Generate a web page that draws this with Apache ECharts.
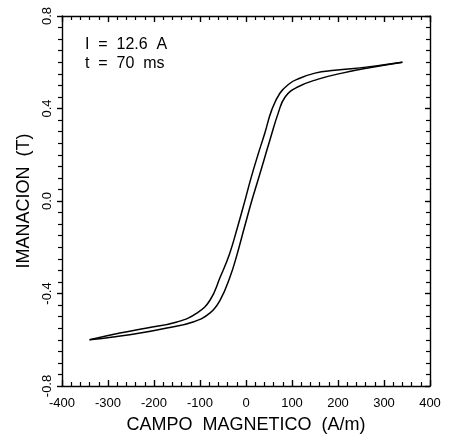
<!DOCTYPE html>
<html>
<head>
<meta charset="utf-8">
<script src="https://cdn.jsdelivr.net/npm/echarts@6/dist/echarts.min.js"></script>
<style>
  html, body { margin: 0; padding: 0; background: #fff; }
  #chart { width: 450px; height: 441px; }
</style>
</head>
<body>
<div id="chart"></div>
<script>
// Hysteresis loop: ascending branch (field increasing)
var fieldUp = [-340, -289, -230, -172, -115, -78, -56, -35, -20, -4, 13, 26, 38, 52, 70, 85, 111, 157, 209, 265, 340];
var magUp   = [-0.600, -0.588, -0.571, -0.549, -0.523, -0.484, -0.428, -0.330, -0.235, -0.118, 0.004, 0.090, 0.170, 0.264, 0.380, 0.450, 0.492, 0.527, 0.553, 0.575, 0.600];

// Descending branch (field decreasing)
var fieldDown = [340, 265, 193, 150, 111, 95, 74, 56, 41, 26, 11, -2, -18, -36, -56, -78, -106, -150, -215, -274, -340];
var magDown   = [0.600, 0.580, 0.565, 0.553, 0.526, 0.508, 0.467, 0.394, 0.294, 0.200, 0.100, 0.004, -0.110, -0.230, -0.329, -0.428, -0.484, -0.523, -0.549, -0.571, -0.600];

var xTicks = { min: -400, max: 400, step: 100 };
var yTicks = { min: -0.8, max: 0.8, step: 0.4 };

var annotation = ['I  =  12.6  A', 't  =  70  ms'];

function pairs(xs, ys) {
  return xs.map(function (x, i) { return [x, ys[i]]; });
}

var FONT = '"Liberation Sans", Arial, sans-serif';
var lineStyle = { color: '#000', width: 1.4 };

var chart = echarts.init(document.getElementById('chart'), null, { renderer: 'canvas' });

var baseX = {
  type: 'value', min: xTicks.min, max: xTicks.max, interval: xTicks.step,
  axisLine: { show: true, onZero: false, lineStyle: lineStyle },
  axisTick: { show: true, inside: true, length: 6, lineStyle: lineStyle },
  minorTick: { show: true, splitNumber: 5, length: 4, lineStyle: { color: '#000', width: 1.2 } },
  splitLine: { show: false }
};
var baseY = {
  type: 'value', min: yTicks.min, max: yTicks.max, interval: yTicks.step,
  axisLine: { show: true, onZero: false, lineStyle: lineStyle },
  axisTick: { show: true, length: 6, lineStyle: lineStyle },
  minorTick: { show: true, splitNumber: 8, length: 4, lineStyle: { color: '#000', width: 1.2 } },
  splitLine: { show: false }
};

chart.setOption({
  animation: false,
  backgroundColor: '#fff',
  grid: { left: 62, right: 20, top: 16, bottom: 55 },
  title: {
    text: annotation.join('\n'),
    left: 80, top: 30,
    textStyle: { fontFamily: FONT, fontSize: 16, fontWeight: 'normal', color: '#000', lineHeight: 19 }
  },
  xAxis: [
    Object.assign({}, baseX, {
      position: 'bottom',
      name: 'CAMPO  MAGNETICO  (A/m)',
      nameLocation: 'middle', nameGap: 30,
      nameTextStyle: { fontFamily: FONT, fontSize: 18, color: '#000' },
      axisLabel: { show: true, margin: 11, fontFamily: FONT, fontSize: 13, color: '#000' }
    }),
    Object.assign({}, baseX, {
      position: 'top',
      axisLabel: { show: false }
    })
  ],
  yAxis: [
    Object.assign({}, baseY, {
      position: 'left',
      axisTick: { show: true, inside: false, length: 5, lineStyle: lineStyle },
      minorTick: { show: true, splitNumber: 8, length: 4, lineStyle: { color: '#000', width: 1.2 } },
      name: 'IMANACION  (T)',
      nameLocation: 'middle', nameGap: 29,
      nameTextStyle: { fontFamily: FONT, fontSize: 18, color: '#000' },
      axisLabel: {
        show: true, rotate: 90, margin: 8, fontFamily: FONT, fontSize: 13, color: '#000',
        formatter: function (v) { return v.toFixed(1); }
      }
    }),
    Object.assign({}, baseY, {
      position: 'right',
      axisTick: { show: true, inside: true, length: 5, lineStyle: lineStyle },
      axisLabel: { show: false }
    })
  ],
  series: [
    {
      type: 'line', xAxisIndex: 0, yAxisIndex: 0,
      data: pairs(fieldUp, magUp),
      smooth: 0.45, showSymbol: false, symbol: 'none',
      lineStyle: { color: '#000', width: 1.5 }
    },
    {
      type: 'line', xAxisIndex: 0, yAxisIndex: 0,
      data: pairs(fieldDown, magDown),
      smooth: 0.45, showSymbol: false, symbol: 'none',
      lineStyle: { color: '#000', width: 1.5 }
    }
  ]
});
</script>
</body>
</html>
